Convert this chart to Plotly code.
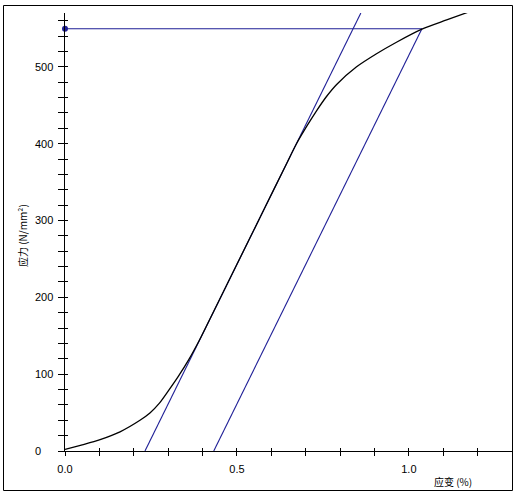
import plotly.graph_objects as go

# Stress-strain curve (strain %, stress N/mm²)
strain = [0.0, 0.05, 0.10, 0.16, 0.218, 0.247, 0.274, 0.30, 0.33, 0.36, 0.39,
          0.42, 0.50, 0.58, 0.64, 0.674, 0.705, 0.732, 0.76, 0.79, 0.848,
          0.906, 0.964, 1.038, 1.11, 1.172]
stress = [2, 8, 14.5, 25, 40, 49.5, 62, 78, 97.5, 119, 143.5,
          170.5, 243, 315.5, 370, 400.5, 424, 443, 461, 477, 500,
          517, 532, 549, 561, 571]

# Construction lines
tangent_x = [0.2326, 0.8604]
tangent_y = [0, 570]
offset_x = [0.4326, 1.038]
offset_y = [0, 549.5]
level_x = [0.0, 1.038]
level_y = [549.5, 549.5]
peak_marker = (0.0, 549.5)
offset_marker = (0.4326, 0.0)

x_ticks = [round(0.1 * i, 1) for i in range(14)]
x_ticktext = ["0.0", "", "", "", "", "0.5", "", "", "", "", "1.0", "", "", ""]
y_label_vals = [0, 100, 200, 300, 400, 500]

X_RANGE = [0, 1.3]
Y_RANGE = [0, 570]
NAVY = "#1e1e96"
FONT = "Liberation Sans, Arial, sans-serif"
CJK = "Noto Sans CJK SC, sans-serif"

fig = go.Figure()
fig.add_trace(go.Scatter(x=tangent_x, y=tangent_y, mode="lines",
                         line=dict(color=NAVY, width=1.1), showlegend=False))
fig.add_trace(go.Scatter(x=offset_x, y=offset_y, mode="lines",
                         line=dict(color=NAVY, width=1.1), showlegend=False))
fig.add_trace(go.Scatter(x=level_x, y=level_y, mode="lines",
                         line=dict(color=NAVY, width=1.1), showlegend=False))
fig.add_trace(go.Scatter(x=strain, y=stress, mode="lines",
                         line=dict(color="black", width=1.3, shape="spline", smoothing=0.8),
                         showlegend=False))
fig.add_trace(go.Scatter(x=[peak_marker[0]], y=[peak_marker[1]], mode="markers",
                         marker=dict(color=NAVY, size=6, symbol="circle"),
                         cliponaxis=False, showlegend=False))
fig.add_trace(go.Scatter(x=[offset_marker[0]], y=[offset_marker[1]], mode="markers",
                         marker=dict(color="rgba(0,0,0,0)", size=7, symbol="circle-open",
                                     line=dict(color=NAVY, width=1.2)),
                         cliponaxis=False, showlegend=False))

# Invisible trace on overlay axes to hold inside ticks
fig.add_trace(go.Scatter(x=[None], y=[None], xaxis="x2", yaxis="y2", showlegend=False))

W, H = 521, 495
L, R, T, B = 65, 9, 13, 44
pw, ph = W - L - R, H - T - B

fig.update_layout(
    width=W, height=H,
    margin=dict(l=L, r=R, t=T, b=B, pad=0),
    paper_bgcolor="white", plot_bgcolor="white",
    font=dict(family=FONT, size=11, color="black"),
    xaxis=dict(range=X_RANGE, showgrid=False, zeroline=False, showline=True,
               linecolor="black", linewidth=1, ticks="outside", ticklen=4,
               tickcolor="black", tickwidth=1, tickvals=x_ticks, ticktext=x_ticktext,
               ticklabelstandoff=4,
               tickfont=dict(family=FONT, size=11, color="black"), fixedrange=True),
    yaxis=dict(range=Y_RANGE, showgrid=False, zeroline=False, showline=True,
               linecolor="black", linewidth=1, ticks="outside", ticklen=6,
               tickcolor="black", tickwidth=1, dtick=20, tick0=0,
               showticklabels=False, fixedrange=True),
    xaxis2=dict(range=X_RANGE, overlaying="x", anchor="y2", showgrid=False,
                zeroline=False, showline=False, ticks="inside", ticklen=3,
                tickcolor="black", tickvals=x_ticks, showticklabels=False),
    yaxis2=dict(range=Y_RANGE, overlaying="y", anchor="x2", showgrid=False,
                zeroline=False, showline=False, ticks="inside", ticklen=3,
                tickcolor="black", dtick=20, tick0=0, showticklabels=False),
)

annotations = []
for v in y_label_vals:
    annotations.append(dict(x=(33 - L) / pw, xref="paper", y=v, yref="y",
                            text=str(v), showarrow=False, xanchor="left",
                            yanchor="middle",
                            font=dict(family=FONT, size=11, color="black")))
annotations.append(dict(x=(453 - L) / pw, xref="paper", y=(T + ph - 482) / ph, yref="paper",
                        text="应变 (%)", showarrow=False, xanchor="center", yanchor="middle",
                        font=dict(family=CJK, size=10, color="black")))
annotations.append(dict(x=(22 - L) / pw, xref="paper", y=(T + ph - 236) / ph, yref="paper",
                        text="应力 (N/mm²)", showarrow=False, textangle=-90,
                        xanchor="center", yanchor="middle",
                        font=dict(family=CJK, size=10, color="black")))
fig.update_layout(annotations=annotations)

# Outer frame
fig.add_shape(type="rect", xref="paper", yref="paper",
              x0=(3.5 - L) / pw, x1=(512.5 - L) / pw,
              y0=(T + ph - 490.5) / ph, y1=(T + ph - 5.5) / ph,
              line=dict(color="black", width=1), fillcolor="rgba(0,0,0,0)", layer="above")

fig.write_html("out.html", config={"displayModeBar": False},
               post_script="document.body.style.margin='0';document.body.style.overflow='hidden';")
